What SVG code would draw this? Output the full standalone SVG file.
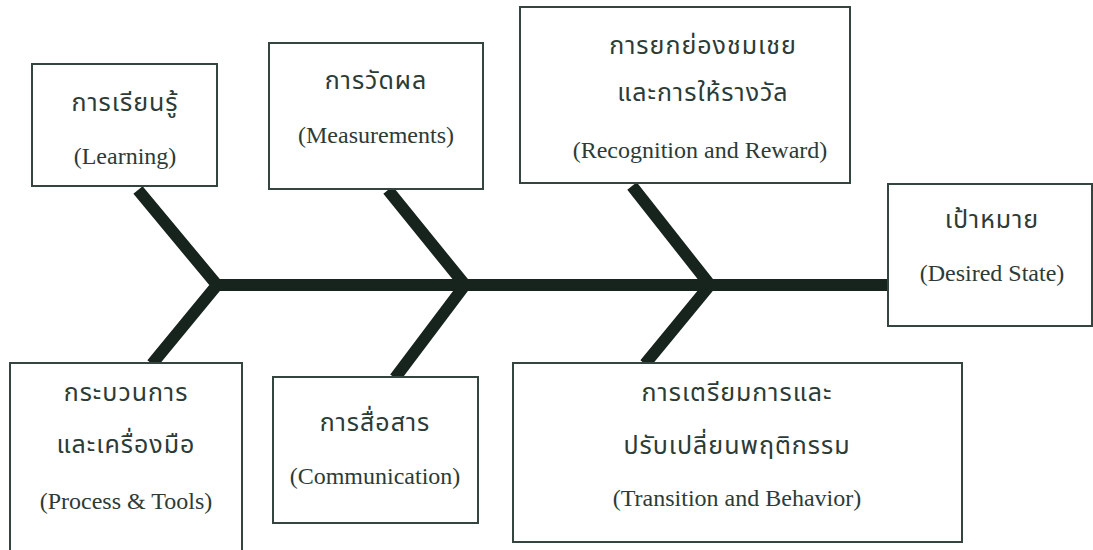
<svg xmlns="http://www.w3.org/2000/svg" width="1093" height="550" viewBox="0 0 1093 550">
<style>
.box{fill:#fff;stroke:#34443f;stroke-width:2}
.bone{stroke:#17241d;stroke-width:12;fill:none;stroke-linejoin:miter;stroke-linecap:butt}
.th{font-family:"Liberation Serif","Noto Sans Thai","DejaVu Sans",serif;font-size:25px;letter-spacing:1px;fill:#2c3b36;text-anchor:middle}
.en{font-family:"Liberation Serif","Times New Roman",serif;font-size:24px;fill:#2c3b36;text-anchor:middle}
</style>
<rect width="1093" height="550" fill="#fff"/>
<g id="connectors">
<path class="bone" d="M888 285 H217"/>
<path class="bone" d="M138 190 L217 285 L152 364"/>
<path class="bone" d="M388 190 L465 285 L395 378"/>
<path class="bone" d="M632 186 L710 285 L645 364"/>
</g>
<g id="learning">
<rect class="box" x="32" y="64" width="185" height="122"/>
<text class="th" x="125" y="111">การเรียนรู้</text>
<text class="en" x="125" y="164">(Learning)</text>
</g>
<g id="measurements">
<rect class="box" x="269" y="43" width="214" height="146"/>
<text class="th" x="376" y="89">การวัดผล</text>
<text class="en" x="376" y="143">(Measurements)</text>
</g>
<g id="recognition">
<rect class="box" x="520" y="7" width="330" height="176"/>
<text class="th" x="703" y="54">การยกย่องชมเชย</text>
<text class="th" x="703" y="101">และการให้รางวัล</text>
<text class="en" x="700" y="158">(Recognition and Reward)</text>
</g>
<g id="desired">
<rect class="box" x="888" y="184" width="204" height="142"/>
<text class="th" x="992" y="228">เป้าหมาย</text>
<text class="en" x="992" y="281">(Desired State)</text>
</g>
<g id="process">
<rect class="box" x="10" y="363" width="232" height="190"/>
<text class="th" x="126" y="401">กระบวนการ</text>
<text class="th" x="126" y="453">และเครื่องมือ</text>
<text class="en" x="126" y="509">(Process &amp; Tools)</text>
</g>
<g id="communication">
<rect class="box" x="273" y="377" width="205" height="146"/>
<text class="th" x="375" y="431">การสื่อสาร</text>
<text class="en" x="375" y="484">(Communication)</text>
</g>
<g id="transition">
<rect class="box" x="513" y="363" width="449" height="179"/>
<text class="th" x="737" y="401">การเตรียมการและ</text>
<text class="th" x="737" y="454">ปรับเปลี่ยนพฤติกรรม</text>
<text class="en" x="737" y="506">(Transition and Behavior)</text>
</g>
</svg>
